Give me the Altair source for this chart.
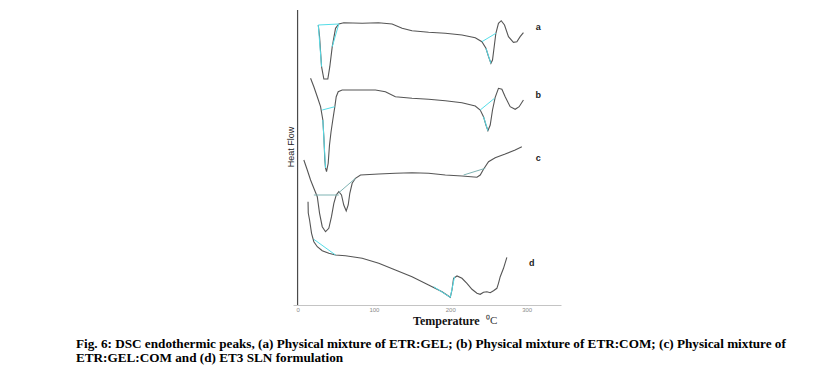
import altair as alt
import pandas as pd

# ---- curve data (Temperature °C, Heat Flow arbitrary units) ----
a_temp = [27.1, 28.8, 31.4, 34.4, 39.6, 42.2, 45.4, 49.7, 54.0, 60.5, 84.6, 105.9, 123.8, 136.9, 149.9, 171.6, 193.5, 215.3, 232.7, 241.4, 246.7, 250.1, 253.2, 255.3, 257.5, 259.7, 263.1, 266.7, 271.0, 276.2, 282.7, 287.2, 291.5, 295.8]
a_heat = [280, 268.3, 238.3, 226, 226, 238.3, 258.3, 276.7, 281, 282.3, 281.7, 282.3, 281, 276.7, 274.3, 272.7, 271.7, 270, 267.3, 263.3, 256.7, 248.3, 241.7, 245, 258.3, 271.7, 281.7, 284.3, 280, 268.3, 262.7, 263.3, 268.3, 272.3]

b_temp = [17.0, 21.3, 25.8, 30.1, 33.1, 34.4, 35.7, 36.6, 37.9, 40.1, 41.8, 43.8, 46.1, 48.8, 50.6, 53.2, 58.4, 84.6, 102.0, 115.0, 128.1, 149.9, 171.6, 193.5, 215.3, 232.7, 239.2, 243.5, 246.7, 249.3, 252.3, 255.3, 258.8, 263.1, 267.6, 271.9, 278.4, 285.0, 290.2, 295.8]
b_heat = [226.7, 218.3, 208.3, 198.3, 185, 168.3, 145, 137, 133.3, 141.7, 160, 173, 185, 198.3, 208.3, 213.3, 215, 215, 215, 213.3, 208.3, 206.7, 205.7, 204.3, 202.3, 199, 195, 188.3, 180, 174.3, 180, 195, 207.7, 216.7, 215.7, 208.3, 198.3, 195.7, 198.3, 205]

c_temp = [8.2, 12.7, 17.0, 21.3, 25.8, 28.8, 32.3, 36.6, 40.9, 44.4, 47.5, 50.6, 54.0, 57.5, 60.5, 63.7, 66.3, 68.4, 71.5, 75.8, 82.4, 106.3, 128.1, 149.9, 171.6, 193.5, 215.3, 234.9, 239.2, 243.5, 250.1, 258.8, 271.9, 285.0, 293.7]
c_heat = [145, 135, 125, 116.7, 108.3, 91.7, 78.3, 73.3, 76.7, 88.3, 101.7, 110, 113.3, 110, 100, 94, 100, 111.7, 121.7, 126.7, 130, 131, 131.7, 132.3, 131.7, 130, 129, 127.7, 130, 135.7, 143.3, 147.3, 151, 155, 158.3]

d_temp = [13.7, 14.0, 15.7, 18.3, 21.3, 25.8, 32.3, 40.9, 49.7, 62.7, 84.6, 106.3, 128.1, 149.9, 171.6, 189.2, 200.0, 202.2, 204.3, 208.8, 215.3, 221.8, 228.4, 234.9, 239.2, 243.5, 248.0, 252.3, 256.6, 261.0, 263.1, 265.4, 269.7, 274.1]
d_heat = [103.3, 92, 85, 71.7, 63.3, 58.3, 54.3, 51.7, 50, 49.3, 46.7, 41.7, 35, 28.3, 20, 13.3, 7.7, 15, 26.7, 29, 26.7, 21.7, 15.7, 11.7, 10.7, 12.7, 13.3, 12.3, 14.3, 16.7, 21.7, 28.3, 36.7, 47.7]

# ---- peak integration baselines ----
seg_curve = ["a", "a", "a", "a", "a", "b", "b", "b", "b", "c", "c", "c", "d", "d", "d"]
seg_t1 = [27.1, 27.1, 54.0, 241.4, 246.7, 32.3, 33.1, 239.2, 243.5, 21.3, 54.0, 217.4, 21.3, 178.2, 200.0]
seg_h1 = [280, 280, 281, 263.3, 256.7, 195, 185, 195, 188.3, 110, 112.3, 130, 65.7, 18.3, 7.7]
seg_t2 = [54.0, 31.4, 45.4, 259.7, 253.2, 48.8, 36.6, 257.9, 249.3, 54.0, 75.8, 245.8, 49.7, 200.0, 205.6]
seg_h2 = [281, 238.3, 258.3, 271.7, 241.7, 198.3, 137, 206.7, 174.3, 110, 126.7, 136.7, 50, 7.7, 28.3]

# ---- curve labels ----
label_text = ["a", "b", "c", "d"]
label_temp = [315.3, 315.3, 315.3, 306.6]
label_heat = [278.3, 210, 147, 42]

x_ticks = [0, 100, 200, 300]
y_title = "Heat Flow"
x_title = "Temperature"
x_unit = "⁰C"
caption_1 = "Fig. 6: DSC endothermic peaks, (a) Physical mixture of ETR:GEL; (b) Physical mixture of ETR:COM; (c) Physical mixture of"
caption_2 = "ETR:GEL:COM and (d) ET3 SLN formulation"

rows = []
for name, ts, hs in [("a", a_temp, a_heat), ("b", b_temp, b_heat), ("c", c_temp, c_heat), ("d", d_temp, d_heat)]:
    for i, (t, h) in enumerate(zip(ts, hs)):
        rows.append({"curve": name, "i": i, "T": t, "H": h})
curves = pd.DataFrame(rows)
segs = pd.DataFrame({"curve": seg_curve, "T1": seg_t1, "H1": seg_h1, "T2": seg_t2, "H2": seg_h2})
labels = pd.DataFrame({"label": label_text, "T": label_temp, "H": label_heat})

xs = alt.Scale(domain=[-6, 345], nice=False, zero=False)
ys = alt.Scale(domain=[0, 295], nice=False, zero=False)

xaxis = alt.Axis(values=x_ticks, title=None, ticks=False, grid=False, labelFontSize=6,
                 labelColor="#8a8a8a", domainColor="#c4c4c4", labelPadding=1, labelFont="Arial")

lines = alt.Chart(curves).mark_line(strokeWidth=1.1, color="#555555").encode(
    x=alt.X("T:Q", scale=xs, axis=xaxis),
    y=alt.Y("H:Q", scale=ys, axis=None),
    detail="curve:N",
    order="i:Q",
)

baselines = alt.Chart(segs).mark_rule(strokeWidth=1).encode(
    x=alt.X("T1:Q", scale=xs),
    y=alt.Y("H1:Q", scale=ys),
    x2="T2:Q",
    y2="H2:Q",
    color=alt.Color("curve:N", legend=None,
                    scale=alt.Scale(domain=["a", "b", "c", "d"],
                                    range=["#55dde8", "#55dde8", "#7fb3b3", "#55dde8"])),
)

yline = alt.Chart(pd.DataFrame({"T": [0]})).mark_rule(color="#4a4a4a", strokeWidth=1.2).encode(
    x=alt.X("T:Q", scale=xs)
)

curve_labels = alt.Chart(labels).mark_text(font="Arial", fontSize=9, fontWeight="bold",
                                            color="#222", align="center", baseline="middle").encode(
    x=alt.X("T:Q", scale=xs), y=alt.Y("H:Q", scale=ys), text="label:N"
)

def txt(s, x, y, **kw):
    return alt.Chart(pd.DataFrame({"s": [s]})).mark_text(**kw).encode(
        text="s:N", x=alt.value(x), y=alt.value(y))

ytitle = txt(y_title, -2, 137, font="Arial", fontSize=9, angle=270, align="center",
             baseline="middle", color="#222")
xtitle = txt(x_title, 120, 311, font="Liberation Serif", fontSize=12, fontWeight="bold",
             align="left", baseline="middle", color="#111")
xunit = txt(x_unit, 193, 311, font="Liberation Serif", fontSize=11, align="left",
            baseline="middle", color="#333")
cap1 = txt(caption_1, -217, 338, font="Liberation Serif", fontSize=13.2, fontWeight="bold",
           align="left", baseline="alphabetic", color="#000")
cap2 = txt(caption_2, -217, 352, font="Liberation Serif", fontSize=13.2, fontWeight="bold",
           align="left", baseline="alphabetic", color="#000")

chart = alt.layer(yline, lines, baselines, curve_labels, ytitle, xtitle, xunit, cap1, cap2).properties(
    width=268, height=295,
    padding={"left": 285, "top": 2, "right": 244, "bottom": 60},
    autosize=alt.AutoSizeParams(type="none"),
).configure_view(stroke=None)

chart.save("out.html", embed_options={"renderer": "svg", "actions": False})
